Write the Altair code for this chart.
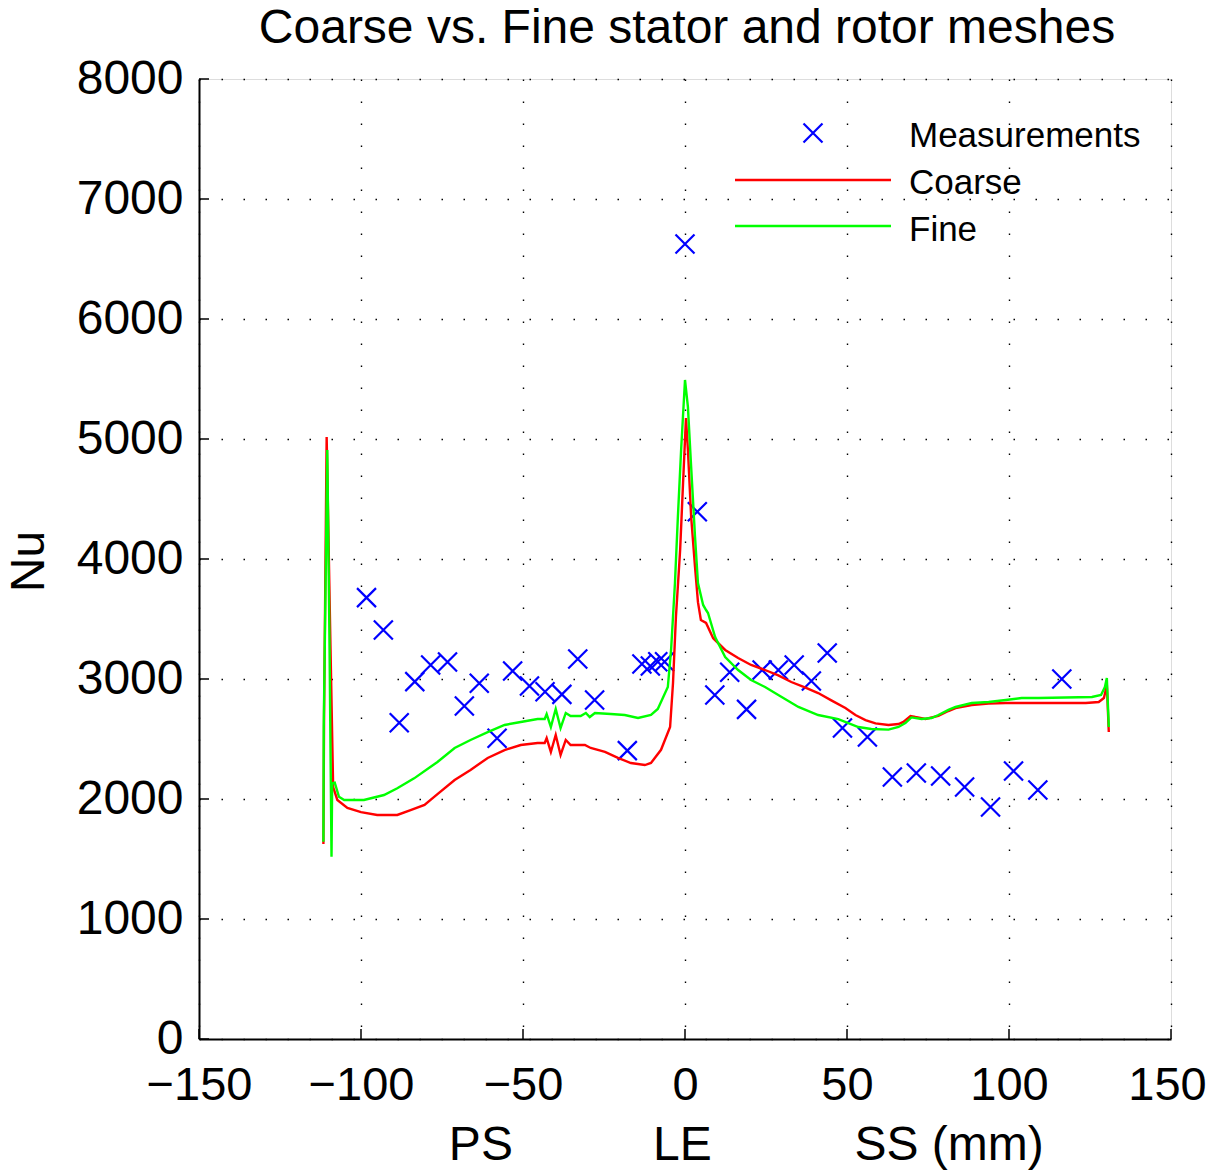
import altair as alt
import pandas as pd

FONT = "Liberation Sans"

# ---------------- data ----------------
meas_x = [-98.3, -93.1, -88.2, -83.4, -78.5, -73.3, -68.1, -63.5, -58.0, -53.2,
          -48.0, -43.2, -38.0, -33.1, -27.9, -17.8, -13.3, -10.7, -8.4, -6.3,
          0.0, 3.8, 9.2, 13.8, 19.0, 23.8, 28.8, 33.7, 39.0, 43.9,
          48.6, 56.3, 64.0, 71.4, 78.9, 86.3, 94.3, 101.4, 108.9, 116.3]
meas_y = [3678, 3408, 2636, 2978, 3117, 3142, 2775, 2964, 2506, 3067,
          2942, 2894, 2872, 3167, 2825, 2403, 3125, 3108, 3144, 3144,
          6625, 4394, 2867, 3056, 2747, 3075, 3075, 3117, 2983, 3217,
          2592, 2517, 2183, 2217, 2192, 2100, 1933, 2233, 2075, 3000]

coarse_x = [-111.6, -111.4, -110.6, -109.4, -108.6, -107.3, -104.2, -100.0, -95.0, -88.8,
            -84.7, -80.4, -76.4, -71.1, -66.2, -60.9, -55.7, -50.7, -45.5, -43.3,
            -42.7, -41.4, -39.9, -38.4, -36.8, -35.3, -30.9, -29.1, -24.7, -20.7,
            -16.7, -12.4, -10.5, -7.4, -4.6, -3.7, -2.8, -1.5, -0.6, 0.3,
            0.9, 1.9, 3.1, 4.0, 4.9, 6.5, 8.7, 12.4, 16.4, 20.4,
            24.7, 28.8, 32.8, 37.0, 41.1, 45.3, 49.5, 52.6, 55.7, 58.8,
            62.8, 65.9, 67.4, 69.6, 71.1, 74.2, 78.2, 81.3, 83.5, 88.5,
            93.7, 99.0, 110.0, 123.7, 127.7, 129.3, 130.2, 130.8]
coarse_y = [1625, 2700, 5017, 3242, 2100, 1992, 1925, 1890, 1867, 1867,
            1908, 1950, 2040, 2158, 2242, 2342, 2408, 2450, 2467, 2467,
            2508, 2392, 2533, 2367, 2492, 2450, 2450, 2425, 2392, 2342,
            2300, 2283, 2300, 2410, 2600, 2967, 3517, 4075, 4633, 5175,
            4908, 4350, 3933, 3640, 3492, 3467, 3340, 3242, 3175, 3117,
            3075, 3030, 2975, 2930, 2883, 2820, 2758, 2700, 2658, 2630,
            2617, 2625, 2642, 2692, 2683, 2667, 2692, 2733, 2758, 2783,
            2795, 2800, 2800, 2800, 2808, 2842, 2950, 2558]

fine_x = [-111.6, -111.5, -110.4, -109.7, -109.1, -108.9, -108.1, -106.8, -105.2, -99.1,
          -92.9, -88.8, -83.6, -78.5, -76.4, -71.1, -66.2, -60.9, -55.7, -50.7,
          -45.5, -43.3, -42.7, -41.4, -39.9, -38.4, -36.8, -35.3, -32.2, -30.6,
          -29.4, -27.8, -22.9, -18.6, -14.5, -10.5, -8.4, -5.3, -4.3, -3.1,
          -2.2, -1.2, 0.0, 0.9, 1.9, 3.1, 4.0, 5.6, 6.5, 7.1,
          9.3, 12.4, 16.4, 20.4, 24.7, 28.8, 35.0, 41.1, 47.3, 53.5,
          57.5, 62.8, 65.9, 68.0, 69.9, 73.0, 76.1, 78.2, 81.3, 83.5,
          88.5, 93.7, 99.0, 103.9, 109.2, 125.6, 128.4, 129.6, 130.2, 130.8]
fine_y = [1644, 2600, 4908, 3242, 1519, 2131, 2136, 2019, 1992, 1992,
          2033, 2089, 2172, 2269, 2308, 2425, 2492, 2558, 2617, 2642,
          2667, 2667, 2708, 2600, 2750, 2592, 2717, 2692, 2692, 2717,
          2683, 2717, 2708, 2700, 2675, 2700, 2750, 2933, 3242, 3800,
          4350, 4908, 5492, 5267, 4767, 4183, 3800, 3617, 3575, 3550,
          3350, 3183, 3075, 2992, 2933, 2867, 2767, 2700, 2665, 2600,
          2583, 2578, 2600, 2633, 2680, 2667, 2675, 2700, 2742, 2767,
          2800, 2808, 2825, 2842, 2842, 2850, 2867, 2933, 3008, 2600]

x_ticks = [-150, -100, -50, 0, 50, 100, 150]
y_ticks = [0, 1000, 2000, 3000, 4000, 5000, 6000, 7000, 8000]

side_labels = ["PS", "LE", "SS (mm)"]
side_label_x = [-63.0, -0.8, 81.5]

title_text = "Coarse vs. Fine stator and rotor meshes"
legend_labels = ["Measurements", "Coarse", "Fine"]
series_names = ["Coarse", "Fine"]
series_colors = ["#ff0000", "#00ff00"]

# ---------------- tables ----------------
meas = pd.DataFrame({"x": meas_x, "y": meas_y})
lines = pd.concat([
    pd.DataFrame({"x": coarse_x, "y": coarse_y, "series": "Coarse", "i": range(len(coarse_x))}),
    pd.DataFrame({"x": fine_x, "y": fine_y, "series": "Fine", "i": range(len(fine_x))}),
], ignore_index=True)
xt = pd.DataFrame({"x": x_ticks})
yt = pd.DataFrame({"y": y_ticks})
side = pd.DataFrame({"x": side_label_x, "label": side_labels})

W, H = 972, 960
X_PATH = "M-1,-1L1,1M-1,1L1,-1"

xs = alt.Scale(domain=[-150, 150], nice=False, zero=False)
ys = alt.Scale(domain=[0, 8000], nice=False, zero=False)

common_axis = dict(
    grid=True, gridColor="#000000", gridDash=[1.5, 20.5], gridWidth=1.4, gridOpacity=1,
    domain=True, domainColor="#000000", domainWidth=2,
    ticks=False, tickSize=0, labelOverlap=False, labelFlush=False,
    labelFont=FONT, labelColor="#000000", format="d",
)
xaxis = alt.Axis(values=x_ticks, labelPadding=23, labelFontSize=47, title=None,
                 labelOffset={"condition": {"test": "datum.value == 150", "value": -4}, "value": 0},
                 **common_axis)
yaxis = alt.Axis(values=y_ticks, labelPadding=16, labelFontSize=48, title="Nu",
                 titleFont=FONT, titleFontSize=48, titleFontWeight="normal",
                 titleColor="#000000", titleAngle=270, titleAlign="center",
                 titleBaseline="middle", titleX=-170, titleY=482, **common_axis)

X = alt.X("x:Q", scale=xs, axis=xaxis)
Y = alt.Y("y:Q", scale=ys, axis=yaxis)

points = alt.Chart(meas).mark_point(
    shape=X_PATH, filled=False, size=361, strokeWidth=2.2, color="#0000ff", opacity=1
).encode(x=X, y=Y)

curves = alt.Chart(lines).mark_line(strokeWidth=2.4).encode(
    x=X, y=Y,
    color=alt.Color("series:N", scale=alt.Scale(domain=series_names, range=series_colors), legend=None),
    order=alt.Order("i:Q"),
)

xtick_rules = alt.Chart(xt).mark_rule(color="#000000", strokeWidth=1.5).encode(
    x=X, y=alt.value(H), y2=alt.value(H - 10)
)
ytick_rules = alt.Chart(yt).mark_rule(color="#000000", strokeWidth=1.5).encode(
    y=Y, x=alt.value(0), x2=alt.value(10)
)

side_text = alt.Chart(side).mark_text(
    font=FONT, fontSize=48, baseline="alphabetic", align="center", color="#000000"
).encode(x=X, y=alt.value(1081), text="label:N")

title_mark = alt.Chart(pd.DataFrame({"label": [title_text]})).mark_text(
    font=FONT, fontSize=48, baseline="alphabetic", align="center", color="#000000"
).encode(x=alt.value(488), y=alt.value(-36), text="label:N")

# ---------------- legend ----------------
leg_marker = alt.Chart(pd.DataFrame({"label": legend_labels[:1]})).mark_point(
    shape=X_PATH, filled=False, size=361, strokeWidth=2.2, color="#0000ff", opacity=1
).encode(x=alt.value(614), y=alt.value(54))
leg_coarse = alt.Chart(pd.DataFrame({"label": legend_labels[1:2]})).mark_rule(
    color=series_colors[0], strokeWidth=2.4
).encode(x=alt.value(536), x2=alt.value(692), y=alt.value(101))
leg_fine = alt.Chart(pd.DataFrame({"label": legend_labels[2:3]})).mark_rule(
    color=series_colors[1], strokeWidth=2.4
).encode(x=alt.value(536), x2=alt.value(692), y=alt.value(147))

def leg_text(lbl, ypos):
    return alt.Chart(pd.DataFrame({"label": [lbl]})).mark_text(
        font=FONT, fontSize=35, baseline="alphabetic", align="left", color="#000000"
    ).encode(x=alt.value(710), y=alt.value(ypos), text="label:N")

legend_layers = [leg_marker, leg_coarse, leg_fine,
                 leg_text(legend_labels[0], 68), leg_text(legend_labels[1], 115),
                 leg_text(legend_labels[2], 162)]

chart = alt.layer(
    points, curves, xtick_rules, ytick_rules, side_text, title_mark, *legend_layers
).properties(
    width=W, height=H,
    autosize=alt.AutoSizeParams(type="none"),
    padding={"left": 191, "top": 71, "right": 36, "bottom": 133},
).configure_view(stroke=None).configure(background="white")

chart.save("out.html", embed_options={"renderer": "svg", "actions": False})
